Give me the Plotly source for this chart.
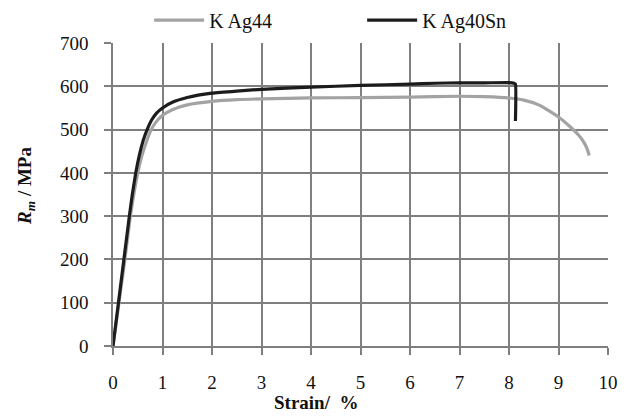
import plotly.graph_objects as go

# K Ag44 (grey)
ag44_strain = [0, 0.12, 0.24, 0.35, 0.42, 0.5, 0.58, 0.67, 0.76, 0.86, 1.0, 1.2, 1.5,
               2.0, 2.5, 3.0, 4.0, 5.0, 6.0, 7.0, 7.5, 8.0, 8.3, 8.6, 9.0, 9.24, 9.4, 9.51, 9.58, 9.62]
ag44_stress = [0, 100, 200, 300, 350, 400, 438, 470, 497, 516, 533, 546, 557,
               565, 569, 571, 573, 574, 575, 577, 576, 573, 568, 557, 529, 506, 488, 471, 455, 440]

# K Ag40Sn (black)
ag40sn_strain = [0, 0.11, 0.22, 0.33, 0.39, 0.46, 0.53, 0.61, 0.69, 0.78, 0.88, 1.0, 1.2,
                 1.5, 2.0, 2.5, 3.0, 4.0, 5.0, 6.0, 6.5, 7.0, 7.5, 8.0, 8.1, 8.13, 8.13]
ag40sn_stress = [0, 100, 200, 300, 350, 400, 440, 475, 500, 522, 538, 550, 563,
                 574, 584, 589, 593, 598, 602, 605, 607, 608, 608, 608.5, 607, 605, 520]

x_ticks = [0, 1, 2, 3, 4, 5, 6, 7, 8, 9, 10]
y_ticks = [0, 100, 200, 300, 400, 500, 600, 700]

x_title = "<b>Strain/  %</b>"
y_title = "<b><i>R<sub>m</sub></i> / MPa</b>"

FONT = "Liberation Serif, Times New Roman, serif"
GRID = "#7f7f7f"
TXT = "#111111"

fig = go.Figure()
fig.add_trace(go.Scatter(x=ag44_strain, y=ag44_stress, mode="lines", name="K Ag44",
                         line=dict(color="#a3a3a3", width=3.2, shape="spline", smoothing=0.6)))
fig.add_trace(go.Scatter(x=ag40sn_strain, y=ag40sn_stress, mode="lines", name="K Ag40Sn",
                         line=dict(color="#1c1c1c", width=3.2, shape="spline", smoothing=0.4)))

fig.update_layout(
    width=620, height=408,
    margin=dict(l=105, r=20, t=35, b=70, autoexpand=False),
    paper_bgcolor="white", plot_bgcolor="white",
    font=dict(family=FONT, size=19, color=TXT),
    showlegend=True,
    legend=dict(orientation="h", x=0.073, y=1.14, xanchor="left", yanchor="top",
                font=dict(family=FONT, size=20, color=TXT),
                entrywidth=148, itemwidth=50, bgcolor="rgba(0,0,0,0)"),
    xaxis=dict(range=[0, 10], tickvals=x_ticks, ticktext=[str(v) for v in x_ticks],
               tickfont=dict(family=FONT, size=19, color=TXT),
               showgrid=True, gridcolor=GRID, gridwidth=1.5,
               showline=True, linecolor=GRID, linewidth=1.5, mirror=False,
               ticks="outside", ticklen=7, tickwidth=1.5, tickcolor=GRID,
               zeroline=False, ticklabelstandoff=11, automargin=False),
    yaxis=dict(range=[0, 700], tickvals=y_ticks, ticktext=[str(v) for v in y_ticks],
               tickfont=dict(family=FONT, size=19, color=TXT),
               showgrid=True, gridcolor=GRID, gridwidth=1.5,
               showline=True, linecolor=GRID, linewidth=1.5,
               ticks="outside", ticklen=7, tickwidth=1.5, tickcolor=GRID,
               zeroline=False, ticklabelstandoff=12, automargin=False),
    annotations=[
        dict(text=x_title, xref="paper", yref="paper", x=0.41, y=-0.226,
             xanchor="center", yanchor="bottom", showarrow=False, borderpad=0,
             font=dict(family=FONT, size=19, color=TXT)),
        dict(text=y_title, xref="paper", yref="paper", x=-0.176, y=0.528,
             xanchor="center", yanchor="middle", textangle=-90, showarrow=False,
             font=dict(family=FONT, size=19, color=TXT)),
    ],
)

fig.write_html("out.html")
